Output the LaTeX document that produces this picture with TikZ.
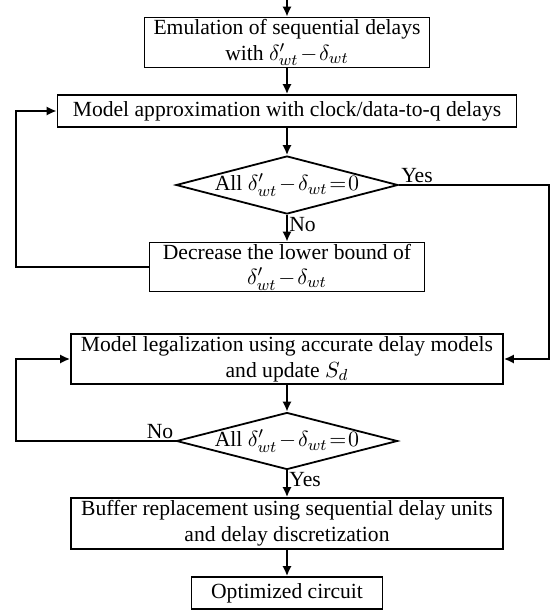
\documentclass[tikz,border=0pt]{standalone}
\usepackage{fontspec}
\setmainfont{Liberation Serif}
\usetikzlibrary{shapes.geometric,arrows.meta}
\newcommand{\tightmath}{\medmuskip=1.5mu plus 1mu\thickmuskip=1.5mu plus 1mu}
\tikzset{
  procbox/.style={draw, line width=0.9pt, inner sep=0pt, align=center, font=\fontsize{10.8pt}{12.8pt}\selectfont\tightmath},
  decision/.style={draw, line width=0.9pt, diamond, inner sep=0pt, font=\fontsize{10.8pt}{12.8pt}\selectfont\tightmath},
  conn/.style={line width=0.9pt, -{Latex[length=5pt,width=4.6pt]}},
  lbl/.style={inner sep=1pt, font=\fontsize{10.8pt}{12.8pt}\selectfont},
}
\begin{document}
\begin{tikzpicture}[x=1pt,y=1pt]
\useasboundingbox (0,0) rectangle (277,-306);
\coordinate (entry) at (143.5,0);
\node[procbox, minimum width=142.5pt, minimum height=25pt] (b1) at (143.5,-21.25) {Emulation of sequential delays\\with $\delta'_{wt}-\delta_{wt}$};
\node[procbox, minimum width=229.5pt, minimum height=16pt] (b2) at (143.5,-55.5) {Model approximation with clock/data-to-q delays};
\node[decision, minimum width=111pt, minimum height=29pt] (d1) at (143.5,-92.5) {\makebox[0pt]{All $\delta'_{wt}-\delta_{wt}=0$}};
\node[procbox, minimum width=137.5pt, minimum height=24.5pt] (b4) at (143.5,-133.5) {Decrease the lower bound of\\$\delta'_{wt}-\delta_{wt}$};
\node[procbox, minimum width=216pt, minimum height=25pt] (b3) at (143.5,-179.5) {Model legalization using accurate delay models\\and update $S_d$};
\node[decision, minimum width=110.5pt, minimum height=28.5pt] (d2) at (143.5,-220.5) {\makebox[0pt]{All $\delta'_{wt}-\delta_{wt}=0$}};
\node[procbox, minimum width=216pt, minimum height=25.5pt] (b5) at (143.5,-261.75) {Buffer replacement using sequential delay units\\and delay discretization};
\node[procbox, minimum width=95.5pt, minimum height=16pt] (b6) at (143.5,-296.5) {Optimized circuit};

\coordinate (l1) at (8,-133.5);
\coordinate (l1t) at (8,-55.5);
\coordinate (r1) at (274.5,-92.5);
\coordinate (r1b) at (274.5,-179.5);
\coordinate (l2) at (8,-220.5);
\coordinate (l2t) at (8,-179.5);

\draw[conn] (entry) -- (b1);
\draw[conn] (b1) -- (b2);
\draw[conn] (b2) -- (d1);
\draw[conn] (d1) -- (b4);
\draw[conn] (b4.west) -- (l1) -- (l1t) -- (b2.west);
\draw[conn] (d1.east) -- (r1) -- (r1b) -- (b3.east);
\draw[conn] (b3) -- (d2);
\draw[conn] (d2.west) -- (l2) -- (l2t) -- (b3.west);
\draw[conn] (d2) -- (b5);
\draw[conn] (b5) -- (b6);

\node[lbl, anchor=south west] (y1) at (d1.east) {Yes};
\node[lbl, anchor=north west] (n1) at (d1.south) {No};
\node[lbl, anchor=south east] (n2) at (d2.west) {No};
\node[lbl, anchor=north west] (y2) at (d2.south) {Yes};
\end{tikzpicture}
\end{document}
